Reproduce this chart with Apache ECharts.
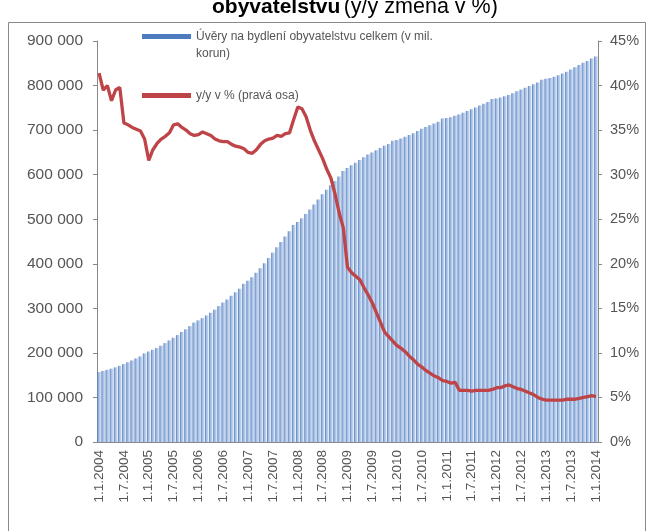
<!DOCTYPE html>
<html><head><meta charset="utf-8">
<script src="https://cdn.jsdelivr.net/npm/echarts@6/dist/echarts.min.js"></script>
<style>html,body{margin:0;padding:0;background:#fff}#c{width:653px;height:531px}</style>
</head><body><div id="c"></div>
<script>
const years = [2004,2005,2006,2007,2008,2009,2010,2011,2012,2013,2014];
const categories = [];
years.forEach(y => { for (let m = 1; m <= 12; m++) { if (y === 2014 && m > 1) break; categories.push('1.' + m + '.' + y); } });

const loans = [
 157000,159500,162000,164500,167500,171000,175000,179000,183000,187500,192000,199000,
 203000,207000,211000,216000,222000,228000,234000,240000,247000,253000,260000,268000,
 273000,278000,284000,290000,297000,305000,313000,320000,328000,336000,344000,355000,
 362000,370000,380000,390000,401000,413000,425000,437000,449000,461000,473000,487000,
 494000,502000,512000,522000,533000,544000,556000,566000,576000,586000,596000,608000,
 615000,621000,627000,633000,639000,645000,650000,655000,660000,665000,669000,676000,
 678000,681000,685000,689000,693000,698000,703000,707000,711000,715000,719000,726000,
 727000,729000,732000,735000,739000,743000,747000,751000,755000,759000,763000,770000,
 771000,773000,776000,779000,783000,787000,791000,795000,799000,803000,807000,813000,
 815000,817000,820000,823000,827000,831000,836000,841000,846000,851000,855000,861000,
 865000
];
const yoy = [
 41.4,39.5,40.0,38.3,39.5,39.8,35.8,35.6,35.3,35.1,34.9,34.0,
 31.6,32.8,33.5,34.0,34.3,34.7,35.6,35.7,35.3,35.0,34.6,34.4,
 34.5,34.8,34.6,34.4,34.0,33.8,33.7,33.7,33.4,33.2,33.1,32.9,
 32.5,32.4,32.8,33.4,33.8,34.0,34.1,34.4,34.3,34.6,34.7,36.2,
 37.6,37.4,36.5,35.0,33.8,32.8,31.8,30.6,29.6,27.8,25.7,24.0,
 19.6,19.0,18.6,18.2,17.3,16.5,15.6,14.5,13.4,12.3,11.8,11.3,
 10.8,10.5,10.1,9.6,9.2,8.7,8.4,8.0,7.7,7.4,7.2,6.9,
 6.8,6.6,6.7,5.8,5.8,5.8,5.7,5.8,5.8,5.8,5.8,5.9,
 6.1,6.1,6.3,6.4,6.2,6.0,5.9,5.7,5.5,5.3,5.0,4.8,
 4.7,4.7,4.7,4.7,4.7,4.8,4.8,4.8,4.9,5.0,5.1,5.2,
 5.1
];
const leftTicks = [0,100000,200000,300000,400000,500000,600000,700000,800000,900000];
const rightTicks = [0,5,10,15,20,25,30,35,40,45];
const seriesNames = ['Úvěry na bydlení obyvatelstvu celkem (v mil. korun)', 'y/y v % (pravá osa)'];

const FONT = 'Liberation Sans, Arial, sans-serif';
const chart = echarts.init(document.getElementById('c'));
chart.setOption({
  animation: false,
  backgroundColor: '#fff',
  textStyle: { fontFamily: FONT },
  graphic: [
    { type: 'rect', shape: { x: 8.5, y: 22.5, width: 637, height: 520 }, style: { fill: 'none', stroke: '#8a8a8a', lineWidth: 1 } },
    { type: 'text', left: 212, top: -4, style: {
        text: '{b|obyvatelstvu} {n|(y/y změna v %)}',
        rich: { b: { fontSize: 21, fontWeight: 'bold', fontFamily: FONT, fill: '#000' },
                n: { fontSize: 21.5, fontFamily: FONT, fill: '#000' } } } }
  ],
  legend: {
    orient: 'vertical', left: 137, top: 6, itemWidth: 49, itemHeight: 5, itemGap: 25, itemTextGap: 3,
    data: [ { name: seriesNames[0], icon: 'rect', itemStyle: { color: '#4f7cc0' } }, { name: seriesNames[1], icon: 'rect' } ],
    formatter: n => n === seriesNames[0] ? ' \nÚvěry na bydlení obyvatelstvu celkem (v mil.\nkorun)' : n,
    textStyle: { fontSize: 12, color: '#555', fontFamily: FONT, lineHeight: 17 }
  },
  grid: { left: 97, right: 55, top: 41, bottom: 89, containLabel: false },
  xAxis: {
    type: 'category', data: categories, boundaryGap: true,
    axisLine: { lineStyle: { color: '#888' } },
    axisTick: { interval: 5, alignWithLabel: true, length: 4, lineStyle: { color: '#888' } },
    axisLabel: { interval: 5, rotate: 90, fontSize: 13.5, color: '#555', margin: 8, fontFamily: FONT }
  },
  yAxis: [
    { type: 'value', min: 0, max: 900000, interval: 100000,
      axisLine: { show: true, lineStyle: { color: '#888' } },
      axisTick: { show: true, length: 4, lineStyle: { color: '#888' } },
      splitLine: { show: false },
      axisLabel: { fontSize: 15.5, color: '#555', margin: 14, fontFamily: FONT,
        formatter: v => leftTicks.includes(v) ? (v === 0 ? '0' : String(v).replace(/\B(?=(\d{3})+(?!\d))/g, ' ')) : '' } },
    { type: 'value', min: 0, max: 45, interval: 5, position: 'right',
      axisLine: { show: true, lineStyle: { color: '#888' } },
      axisTick: { show: true, length: 4, lineStyle: { color: '#888' } },
      splitLine: { show: false },
      axisLabel: { fontSize: 14.5, color: '#555', margin: 12, fontFamily: FONT,
        formatter: v => rightTicks.includes(v) ? v + '%' : '' } }
  ],
  series: [
    { name: seriesNames[0], type: 'bar', data: loans, yAxisIndex: 0, barCategoryGap: '12%',
      itemStyle: { color: new echarts.graphic.LinearGradient(0, 0, 1, 0, [
        { offset: 0, color: '#5579bb' }, { offset: 0.4, color: '#9fbbe2' }, { offset: 1, color: '#cfdff3' } ]) } },
    { name: seriesNames[1], type: 'line', data: yoy, yAxisIndex: 1, symbol: 'none', smooth: false,
      lineStyle: { color: '#be4448', width: 3.3 }, itemStyle: { color: '#be4448' }, z: 5 }
  ]
});
</script></body></html>
